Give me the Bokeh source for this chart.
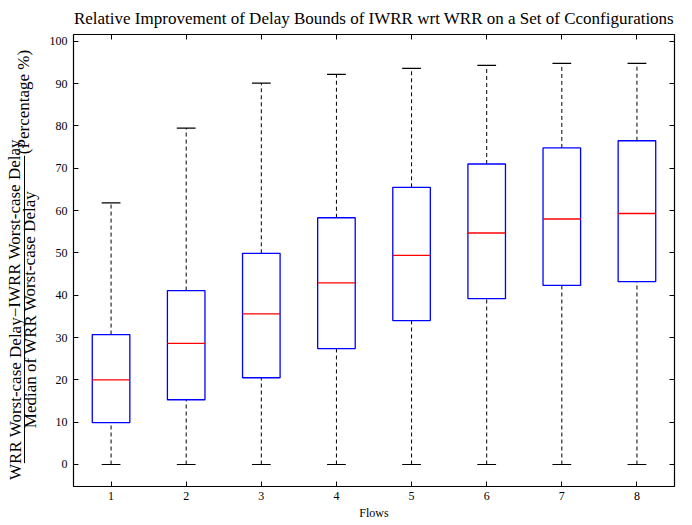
from bokeh.plotting import figure
from bokeh.models import (LinearAxis, FixedTicker, Range1d, ColumnDataSource,
                          CustomLabelingPolicy)
from bokeh.layouts import row
from bokeh.core.properties import value
from bokeh.embed import file_html
from bokeh.resources import INLINE

flows = [1, 2, 3, 4, 5, 6, 7, 8]
whisker_low = [0, 0, 0, 0, 0, 0, 0, 0]
q1 = [9.9, 15.3, 20.5, 27.4, 34.0, 39.2, 42.3, 43.2]
median = [20.0, 28.6, 35.6, 42.9, 49.4, 54.7, 58.0, 59.3]
q3 = [30.7, 41.1, 49.9, 58.3, 65.5, 71.0, 74.8, 76.5]
whisker_high = [61.8, 79.5, 90.1, 92.2, 93.6, 94.3, 94.8, 94.8]
y_ticks = [0, 10, 20, 30, 40, 50, 60, 70, 80, 90, 100]

title_text = "Relative Improvement of Delay Bounds of IWRR wrt WRR on a Set of Cconfigurations"
x_label = "Flows"
y_num = "WRR Worst-case Delay\u2212IWRR Worst-case Delay"
y_den = "Median of WRR Worst-case Delay"
y_pct = "(Percentage %)"

FONT = "Liberation Serif"
BOX_W = 0.5
CAP_W = 0.25
H = 522
LEFT_W = 46

src = ColumnDataSource(dict(
    x=flows, lo=whisker_low, q1=q1, med=median, q3=q3, hi=whisker_high,
    left=[f - BOX_W / 2 for f in flows], right=[f + BOX_W / 2 for f in flows],
    cl=[f - CAP_W / 2 for f in flows], cr=[f + CAP_W / 2 for f in flows],
))

p = figure(width=636, height=H, output_backend="svg", toolbar_location=None,
           x_range=Range1d(0.5, 8.5), y_range=Range1d(-5.2, 101.6),
           min_border_left=27, min_border_right=8, min_border_top=0, min_border_bottom=0,
           title=title_text)
p.title.align = "center"
p.title.text_font = FONT
p.title.text_font_style = "normal"
p.title.text_font_size = "17px"
p.title.text_color = "black"
p.title.standoff = 13
p.grid.visible = False
p.outline_line_color = "black"
p.outline_line_width = 1.2
p.background_fill_color = "white"
p.border_fill_color = "white"

# whiskers
p.segment(x0="x", y0="q3", x1="x", y1="hi", source=src, line_color="black",
          line_dash="4 3", line_width=1)
p.segment(x0="x", y0="lo", x1="x", y1="q1", source=src, line_color="black",
          line_dash="4 3", line_width=1)
# caps
p.segment(x0="cl", y0="hi", x1="cr", y1="hi", source=src, line_color="black", line_width=1.2)
p.segment(x0="cl", y0="lo", x1="cr", y1="lo", source=src, line_color="black", line_width=1.2)
# boxes
p.quad(left="left", right="right", bottom="q1", top="q3", source=src,
       fill_color="white", line_color="#0000ff", line_width=1.3)
# medians
p.segment(x0="left", y0="med", x1="right", y1="med", source=src, line_color="#ff0000", line_width=1.3)

xb = p.xaxis[0]
xb.ticker = FixedTicker(ticks=flows)
yl = p.yaxis[0]
yl.ticker = FixedTicker(ticks=y_ticks)
for ax in (xb, yl):
    ax.major_tick_in = 5
    ax.major_tick_out = 0
    ax.minor_tick_in = 0
    ax.minor_tick_out = 0
    ax.axis_line_color = None
    ax.major_label_text_font = FONT
    ax.major_label_text_font_size = "12px"
    ax.major_label_text_color = "black"
yl.major_label_standoff = 6
xb.major_label_standoff = 5
xb.axis_label = x_label
xb.axis_label_text_font = FONT
xb.axis_label_text_font_style = "normal"
xb.axis_label_text_font_size = "12px"
xb.axis_label_text_color = "black"
xb.axis_label_standoff = 3

hide_all = CustomLabelingPolicy(code="for (const i of indices) { indices.unset(i) } return indices")
for loc, tk in (("above", flows), ("right", y_ticks)):
    ax = LinearAxis(ticker=FixedTicker(ticks=tk), major_label_policy=hide_all)
    ax.major_tick_in = 5
    ax.major_tick_out = 0
    ax.minor_tick_in = 0
    ax.minor_tick_out = 0
    ax.axis_line_color = None
    ax.major_label_standoff = 0
    ax.major_label_text_font_size = "0px"
    p.add_layout(ax, loc)

# left panel carrying the fraction-style y label (pixel-space coordinates)
lp = figure(width=LEFT_W, height=H, output_backend="svg", toolbar_location=None,
            title=None, x_range=Range1d(0, LEFT_W), y_range=Range1d(0, H),
            x_axis_type=None, y_axis_type=None, min_border=0)
lp.outline_line_color = None
lp.grid.visible = False
lp.background_fill_color = "white"
lp.border_fill_color = "white"
lab = ColumnDataSource(dict(x=[14.5, 29.5, 23.0], y=[204.5, 204.5, 444], t=[y_num, y_den, y_pct]))
lp.text(x="x", y="y", text="t", source=lab, angle=1.5708, text_align="center",
        text_baseline="middle", text_font=value(FONT), text_font_size="17px", text_color="black")
lp.segment(x0=[24], y0=[27], x1=[24], y1=[382], line_color="black", line_width=1)

open("out.html", "w").write(file_html(row(lp, p), INLINE))
